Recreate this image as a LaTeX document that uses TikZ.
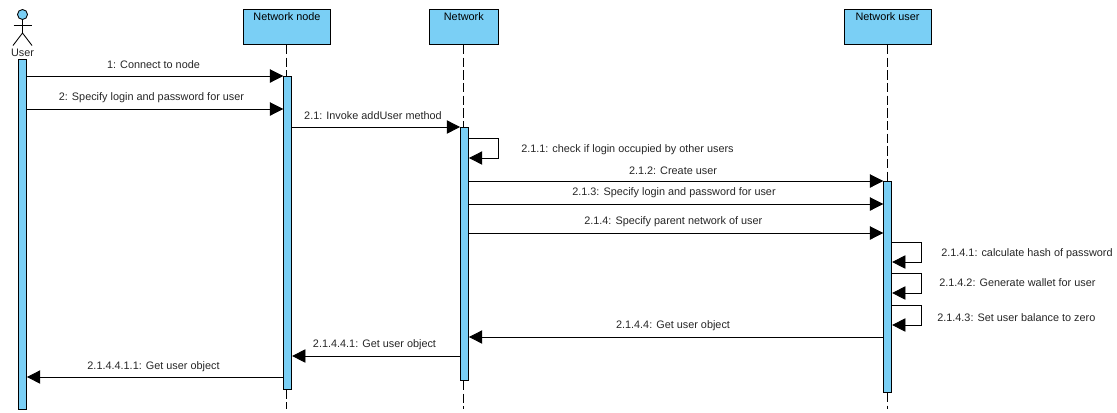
\documentclass[tikz,border=0pt]{standalone}
\usepackage{fontspec}
\setmainfont{Liberation Sans}
\usetikzlibrary{arrows.meta}
\definecolor{barblue}{HTML}{7ACFF5}
\def\px{0.75pt}
\begin{document}
\begin{tikzpicture}[x=0.75pt,y=-0.75pt,font=\fontsize{8.15}{10}\selectfont,
  headbox/.style={draw,fill=barblue,line width=0.7pt,minimum height=35*\px,text height=8*\px,text depth=21*\px,inner ysep=3*\px,inner xsep=0pt},
  barbox/.style={draw,fill=barblue,line width=0.6pt,minimum width=8*\px,inner sep=0pt},
  lifeline/.style={line width=0.65pt,dash pattern=on 7pt off 2.5pt},
  msg/.style={line width=0.65pt,-{Triangle[length=10pt,width=10pt]}},
  stick/.style={line width=0.65pt},
  lbl/.style={text=black!85,inner sep=0pt}]
\useasboundingbox (0,0) rectangle (1117,412);

% actor
\node[circle,draw,fill=barblue,line width=0.65pt,minimum size=10*\px,inner sep=0pt] (actorhead) at (22.5,14.5) {};
\coordinate (hip) at (22.5,33);
\coordinate (armL) at (13.5,25);
\coordinate (armR) at (31.5,25);
\coordinate (legL) at (13,45.5);
\coordinate (legR) at (32,45.5);
\draw[stick] (actorhead.south) -- (hip);
\draw[stick] (armL) -- (armR);
\draw[stick] (legL) -- (hip) -- (legR);
\node[lbl] (actorlabel) at (22.5,53) {User};

% heads
\node[headbox,minimum width=87*\px] (nodehead) at (287,27) {Network node};
\node[headbox,minimum width=69*\px] (nethead) at (463.8,27) {Network};
\node[headbox,minimum width=87*\px] (userhead) at (887.5,27) {Network user};

% activation bars
\node[barbox,minimum height=349.5*\px] (actorbar) at (22.5,234.25) {};
\node[barbox,minimum height=312.5*\px] (nodebar) at (287.7,232.75) {};
\node[barbox,minimum height=253*\px] (netbar) at (464.5,254) {};
\node[barbox,minimum height=211*\px] (userbar) at (887.7,287) {};

% lifelines
\coordinate (nodeline) at (286.4,409);
\coordinate (netline) at (463.4,409);
\coordinate (userline) at (887.3,409);
\draw[lifeline] (nodeline |- nodehead.south) -- (nodeline |- nodebar.north);
\draw[lifeline] (nodeline |- nodebar.south) -- (nodeline);
\draw[lifeline] (netline |- nethead.south) -- (netline |- netbar.north);
\draw[lifeline] (netline |- netbar.south) -- (netline);
\draw[lifeline] (userline |- userhead.south) -- (userline |- userbar.north);
\draw[lifeline] (userline |- userbar.south) -- (userline);

% messages
\draw[msg] (actorbar.east |- 0,76) -- (nodebar.west |- 0,76);
\node[lbl] (m1) at (153.5,64.5) {1: Connect to node};
\draw[msg] (actorbar.east |- 0,109) -- (nodebar.west |- 0,109);
\node[lbl] (m2) at (151.5,97.5) {2: Specify login and password for user};
\draw[msg] (nodebar.east |- 0,127) -- (netbar.west |- 0,127);
\node[lbl] (m21) at (373,116) {2.1: Invoke addUser method};

\draw[msg] (netbar.east |- 0,138) -- (498.5,138) -- (498.5,158) -- (netbar.east |- 0,158);
\node[lbl,anchor=west] (m211) at (521,150) {2.1.1: check if login occupied by other users};

\draw[msg] (netbar.east |- 0,181) -- (userbar.west |- 0,181);
\node[lbl] (m212) at (673,170.5) {2.1.2: Create user};
\draw[msg] (netbar.east |- 0,204) -- (userbar.west |- 0,204);
\node[lbl] (m213) at (674,193) {2.1.3: Specify login and password for user};
\draw[msg] (netbar.east |- 0,233) -- (userbar.west |- 0,233);
\node[lbl] (m214) at (673.3,222) {2.1.4: Specify parent network of user};

\draw[msg] (userbar.east |- 0,242) -- (921.5,242) -- (921.5,262) -- (userbar.east |- 0,262);
\node[lbl,anchor=west] (m2141) at (941,254) {2.1.4.1: calculate hash of password};
\draw[msg] (userbar.east |- 0,273) -- (921.5,273) -- (921.5,293) -- (userbar.east |- 0,293);
\node[lbl,anchor=west] (m2142) at (939,283) {2.1.4.2: Generate wallet for user};
\draw[msg] (userbar.east |- 0,305) -- (921.5,305) -- (921.5,325) -- (userbar.east |- 0,325);
\node[lbl,anchor=west] (m2143) at (937,318) {2.1.4.3: Set user balance to zero};

\draw[msg] (userbar.west |- 0,337) -- (netbar.east |- 0,337);
\node[lbl] (m2144) at (673,326) {2.1.4.4: Get user object};
\draw[msg] (netbar.west |- 0,356) -- (nodebar.east |- 0,356);
\node[lbl] (m21441) at (374.5,345) {2.1.4.4.1: Get user object};
\draw[msg] (nodebar.west |- 0,377) -- (actorbar.east |- 0,377);
\node[lbl] (m214411) at (153.5,366.5) {2.1.4.4.1.1: Get user object};
\end{tikzpicture}
\end{document}
